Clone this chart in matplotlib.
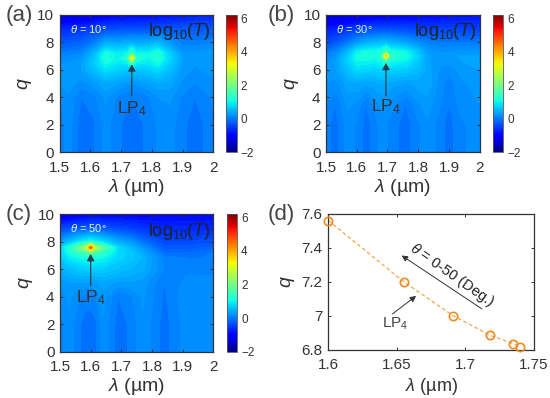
import matplotlib
matplotlib.use('Agg')
import matplotlib.pyplot as plt
import numpy as np

plt.rcParams['font.family'] = ['Liberation Sans', 'DejaVu Sans']
plt.rcParams['mathtext.fontset'] = 'custom'
plt.rcParams['mathtext.rm'] = 'Liberation Sans'
plt.rcParams['mathtext.it'] = 'Liberation Sans:italic'
plt.rcParams['mathtext.default'] = 'regular'

# panel (a), theta = 10, rows go from q_a[0] upward
lam_a = [1.50, 1.53, 1.57, 1.61, 1.65, 1.69, 1.72, 1.735, 1.75, 1.79, 1.82, 1.86, 1.90, 1.94, 1.98, 2.00]
q_a = [0, 2, 4, 5, 6, 6.5, 6.85, 7.2, 8, 9, 10]
T_a = [
    [.05, .15, -.05, -.02, .15, .02, -.03, -.05, -.03, .02, .12, .15, .02, -.05, .02, .08],
    [.05, .15, -.05, -.02, .15, .02, -.03, -.05, -.03, .02, .12, .15, .02, -.05, .02, .08],
    [.08, .18, .00, .06, .22, .08, .02, .00, .02, .08, .20, .22, .08, .00, .08, .12],
    [.20, .25, .15, .25, .38, .30, .22, .18, .22, .30, .38, .35, .18, .10, .15, .18],
    [.25, .28, .30, .55, .85, .70, .62, .68, .62, .68, .80, .55, .25, .18, .22, .22],
    [.18, .22, .30, .65, 1.05, .88, .95, 1.5, .95, .90, 1.05, .70, .28, .22, .25, .25],
    [.10, .15, .20, .58, 1.15, .95, 1.25, 3.5, 1.25, 1.0, 1.18, .75, .30, .22, .28, .28],
    [.00, .05, .10, .45, 1.1, .92, 1.0, 1.5, 1.0, 1.0, 1.2, .68, .25, .22, .28, .25],
    [-.28, -.25, -.18, .00, .38, .35, .38, .42, .38, .40, .48, .20, .05, .05, .05, .05],
    [-.70, -.65, -.60, -.50, -.40, -.38, -.35, -.35, -.35, -.35, -.32, -.32, -.28, -.28, -.25, -.25],
    [-1.4, -1.35, -1.3, -1.2, -1.1, -1.0, -1.0, -1.0, -1.0, -.95, -.95, -.90, -.85, -.80, -.75, -.70],
]

# panel (b), theta = 30
lam_b = [1.50, 1.53, 1.57, 1.60, 1.63, 1.66, 1.68, 1.695, 1.71, 1.76, 1.80, 1.83, 1.87, 1.90, 1.94, 2.00]
q_b = [0, 2, 3.5, 5, 6, 6.65, 7, 7.35, 8, 9, 10]
T_b = [
    [.05, -.05, .15, .08, -.05, .05, .15, .12, .05, -.05, .08, .18, .05, -.05, .08, .15],
    [.05, -.05, .15, .08, -.05, .05, .15, .12, .05, -.05, .08, .18, .05, -.05, .08, .15],
    [.10, .00, .22, .18, .00, .15, .22, .18, .15, .00, .18, .25, .12, .00, .15, .20],
    [.20, .15, .35, .38, .32, .35, .40, .40, .35, .28, .35, .38, .15, .05, .18, .25],
    [.22, .28, .58, .80, .75, .72, .75, .75, .72, .70, .55, .35, .18, .12, .25, .30],
    [.12, .28, .70, 1.0, 1.0, .95, 1.05, 1.5, 1.05, .95, .65, .32, .25, .25, .30, .32],
    [.05, .20, .65, 1.05, 1.15, 1.1, 1.35, 3.8, 1.35, 1.1, .72, .32, .25, .25, .32, .32],
    [-.08, .08, .48, .90, 1.05, 1.05, 1.1, 1.5, 1.1, .98, .58, .25, .18, .18, .22, .22],
    [-.38, -.28, -.02, .25, .40, .48, .52, .52, .48, .32, .15, .05, .00, .00, .00, .00],
    [-.80, -.75, -.62, -.52, -.42, -.38, -.38, -.38, -.38, -.42, -.48, -.48, -.48, -.48, -.48, -.48],
    [-1.5, -1.45, -1.35, -1.3, -1.2, -1.15, -1.1, -1.1, -1.1, -1.05, -1.0, -1.0, -.95, -.90, -.90, -.85],
]

# panel (c), theta = 50
lam_c = [1.50, 1.53, 1.56, 1.585, 1.60, 1.615, 1.64, 1.69, 1.73, 1.77, 1.84, 1.92, 1.96, 2.00]
q_c = [0, 2, 4, 5, 6, 6.8, 7.2, 7.56, 8, 9, 10]
T_c = [
    [.05, .18, .02, -.05, -.05, -.03, .18, -.05, .02, .18, -.05, .18, .12, .12],
    [.05, .18, .02, -.05, -.05, -.03, .18, -.05, .02, .18, -.05, .18, .12, .12],
    [.12, .22, .12, .05, .05, .08, .25, .00, .08, .22, -.02, .20, .12, .12],
    [.22, .30, .28, .28, .28, .28, .35, .28, .28, .25, .00, .15, .12, .12],
    [.42, .55, .65, .70, .70, .70, .70, .58, .50, .42, .10, .08, .08, .08],
    [.62, .90, 1.0, 1.05, 1.1, 1.05, 1.0, .75, .65, .48, .05, .00, .00, .00],
    [.70, 1.1, 1.4, 1.6, 1.8, 1.6, 1.3, .80, .65, .38, -.10, -.10, -.05, .00],
    [.75, 1.2, 1.9, 2.6, 4.8, 2.6, 1.8, .80, .52, .22, -.25, -.25, -.20, -.15],
    [.25, .55, .85, 1.0, 1.1, 1.0, .80, .40, .22, -.05, -.40, -.40, -.35, -.35],
    [-.45, -.38, -.32, -.30, -.28, -.28, -.32, -.42, -.48, -.58, -.68, -.68, -.68, -.68],
    [-1.25, -1.2, -1.1, -1.05, -1.0, -1.0, -1.0, -1.0, -1.0, -1.0, -.95, -.95, -.95, -.90],
]

# panel (d)
lam_d = [1.6, 1.655, 1.691, 1.718, 1.735, 1.74]
q_d = [7.56, 7.2, 7.0, 6.885, 6.835, 6.815]

lam_ticks = [1.5, 1.6, 1.7, 1.8, 1.9, 2]
lam_labels = ['1.5', '1.6', '1.7', '1.8', '1.9', '2']
q_ticks = [0, 2, 4, 6, 8, 10]
cb_ticks = [-2, 0, 2, 4, 6]
TXT = '#333333'
W, H = 550, 398
vmin, vmax = -2, 6.2
levels = np.linspace(vmin, vmax, 83)


def px_axes(fig, x0, y0, x1, y1):
    # pixel box, y measured from the top of the image
    return fig.add_axes([x0 / W, 1 - y1 / H, (x1 - x0) / W, (y1 - y0) / H])


def style_axes(ax, xpad):
    for s in ax.spines.values():
        s.set_linewidth(0.9)
        s.set_color('#333333')
    ax.tick_params(direction='in', length=2.5, width=0.7, labelsize=11, colors=TXT,
                   top=True, right=True)
    ax.tick_params(axis='x', pad=xpad)
    ax.tick_params(axis='y', pad=4)


def heat_panel(fig, box, cbox, lam, q, T, theta, peak_lam, arrow_y, label_y, tag, tag_x, tag_y):
    ax = px_axes(fig, *box)
    ax.contourf(lam, q, np.array(T), levels=levels, cmap='jet', vmin=vmin, vmax=vmax)
    ax.set_xlim(1.5, 2)
    ax.set_ylim(0, 10)
    ax.set_xticks(lam_ticks)
    ax.set_xticklabels(lam_labels)
    ax.set_yticks(q_ticks)
    style_axes(ax, 6)
    ax.set_xlabel(r'$\mathit{\lambda}$ (µm)', fontsize=14, color=TXT, labelpad=1.5)
    ax.set_ylabel(r'$\mathit{q}$', fontsize=14, color=TXT, labelpad=2)
    ax.text(1.594, 8.95, r'$\mathit{\theta}$ = %d$\degree$' % theta, color='#e4f0ff', fontsize=8,
            ha='center', va='center')
    ax.text(1.888, 8.75, r'log$_{10}$($\mathit{T}$)', color='#222222', fontsize=13,
            ha='center', va='center')
    ax.annotate('', xy=(peak_lam, arrow_y[1]), xytext=(peak_lam, arrow_y[0]),
                arrowprops=dict(arrowstyle='-|>,head_width=0.22,head_length=0.4', color='#1f3f50', lw=0.9,
                                shrinkA=0, shrinkB=0))
    ax.text(peak_lam, label_y, 'LP$_4$', color='#333333', fontsize=12.5, ha='center', va='center')
    fig.text(tag_x / W, 1 - tag_y / H, tag, fontsize=16, color='#444444', ha='left', va='center')

    cax = px_axes(fig, *cbox)
    sm = plt.cm.ScalarMappable(norm=plt.Normalize(vmin, vmax), cmap='jet')
    cb = fig.colorbar(sm, cax=cax)
    cb.set_ticks(cb_ticks)
    cb.ax.tick_params(length=0, labelsize=8.5, colors=TXT, pad=3)
    cb.outline.set_linewidth(0.6)
    cb.outline.set_edgecolor('#555555')


fig = plt.figure(figsize=(W / 100, H / 100), dpi=100)

heat_panel(fig, (59.5, 14.7, 213.3, 152.3), (226, 14.7, 236.7, 152.3), lam_a, q_a, T_a, 10,
           1.735, (4.1, 6.4), 3.2, '(a)', 6, 15)
heat_panel(fig, (326, 14.7, 479.7, 152.3), (492.7, 14.7, 503.3, 152.3), lam_b, q_b, T_b, 30,
           1.695, (4.1, 6.5), 3.3, '(b)', 268, 15)
heat_panel(fig, (60, 214, 213.3, 351.7), (226.5, 214, 237, 351.7), lam_c, q_c, T_c, 50,
           1.6, (4.8, 7.1), 3.95, '(c)', 6, 215)

ax = px_axes(fig, 328.3, 213.7, 534, 349.7)
ax.plot(lam_d, q_d, '--', color='#f5a650', lw=0.9, dashes=(3, 2))
ax.plot(lam_d, q_d, 'o', mfc='none', mec='#f08a1e', mew=1.2, ms=6, clip_on=False, zorder=5)
ax.set_xlim(1.6, 1.75)
ax.set_ylim(6.8, 7.6)
ax.set_xticks([1.6, 1.65, 1.7, 1.75])
ax.set_xticklabels(['1.6', '1.65', '1.7', '1.75'])
ax.set_yticks([6.8, 7, 7.2, 7.4, 7.6])
ax.set_yticklabels(['6.8', '7', '7.2', '7.4', '7.6'])
style_axes(ax, 6)
ax.set_xlabel(r'$\mathit{\lambda}$ (µm)', fontsize=13, color=TXT, labelpad=3)
ax.set_ylabel(r'$\mathit{q}$', fontsize=14, color=TXT, labelpad=3)
ax.annotate('', xy=(1.6535, 7.354), xytext=(1.712, 7.04),
            arrowprops=dict(arrowstyle='-|>,head_width=0.18,head_length=0.35', color='#333333', lw=0.7,
                            shrinkA=0, shrinkB=0))
ax.text(1.69, 7.24, r'$\mathit{\theta}$ = 0-50 (Deg.)', rotation=-35, color='#222222', fontsize=10.5,
        ha='center', va='center', rotation_mode='anchor')
ax.annotate('', xy=(1.664, 7.116), xytext=(1.6467, 7.01),
            arrowprops=dict(arrowstyle='-|>,head_width=0.18,head_length=0.35', color='#333333', lw=0.7,
                            shrinkA=0, shrinkB=0))
ax.text(1.6486, 6.95, 'LP$_4$', color='#444444', fontsize=11, ha='center', va='center')
fig.text(268 / W, 1 - 215 / H, '(d)', fontsize=16, color='#444444', ha='left', va='center')

fig.savefig('out.png', dpi=100)
